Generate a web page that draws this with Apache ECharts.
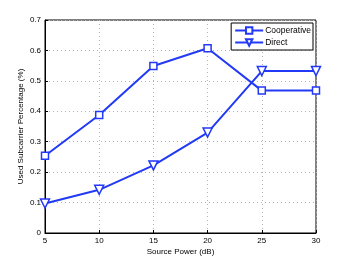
<!DOCTYPE html>
<html><head><meta charset="utf-8">
<script src="https://cdn.jsdelivr.net/npm/echarts@6/dist/echarts.min.js"></script>
<style>html,body{margin:0;padding:0;background:#fff}#c{width:349px;height:263px}</style>
</head><body><div id="c"></div>
<script>
const xValues = [5, 10, 15, 20, 25, 30];
const cooperative = [0.254, 0.388, 0.549, 0.607, 0.468, 0.468];
const direct = [0.097, 0.142, 0.222, 0.330, 0.532, 0.532];
const seriesNames = ['Cooperative', 'Direct'];
const xTitle = 'Source Power (dB)';
const yTitle = 'Used Subcarrier Percentage (%)';

const blue = '#2239f5';
const font = 'Liberation Sans';
const chart = echarts.init(document.getElementById('c'));
const pairs = a => xValues.map((x, i) => [x, a[i]]);
chart.setOption({
  animation: false,
  backgroundColor: '#fff',
  textStyle: { fontFamily: font },
  grid: { left: 45, right: 33, top: 20, bottom: 30, show: true, borderColor: '#000', borderWidth: 1 },
  legend: {
    data: seriesNames,
    right: 36, top: 23, orient: 'vertical',
    itemWidth: 28, itemHeight: 8, itemGap: 3,
    padding: [3, 2, 3, 3],
    borderColor: '#000', borderWidth: 1, backgroundColor: '#fff',
    textStyle: { fontFamily: font, fontSize: 8.5, color: '#000', padding: [0,0,0,-3] }
  },
  xAxis: {
    type: 'value', min: 5, max: 30, interval: 5,
    name: xTitle, nameLocation: 'middle', nameGap: 15, nameMoveOverlap: false,
    nameTextStyle: { fontFamily: font, fontSize: 8, color: '#000' },
    axisLine: { lineStyle: { color: '#000' } },
    axisTick: { inside: true, length: 3, lineStyle: { color: '#000' } },
    axisLabel: { fontFamily: font, fontSize: 8, color: '#000', margin: 4 },
    splitLine: { show: true, lineStyle: { type: [1, 3], color: '#b4b4b4' } }
  },
  yAxis: {
    type: 'value', min: 0, max: 0.7, interval: 0.1,
    name: yTitle, nameLocation: 'middle', nameGap: 20, nameMoveOverlap: false,
    nameTextStyle: { fontFamily: font, fontSize: 8, color: '#000' },
    axisLine: { show: true, lineStyle: { color: '#000' } },
    axisTick: { show: true, inside: true, length: 3, lineStyle: { color: '#000' } },
    axisLabel: { fontFamily: font, fontSize: 8, color: '#000', margin: 4,
      formatter: v => v === 0 ? '0' : v.toFixed(1) },
    splitLine: { show: true, lineStyle: { type: [1, 3], color: '#b4b4b4' } }
  },
  series: [
    { name: seriesNames[0], type: 'line', data: pairs(cooperative),
      symbol: 'rect', symbolSize: 7, showAllSymbol: true,
      lineStyle: { color: blue, width: 2 },
      itemStyle: { color: '#fff', borderColor: blue, borderWidth: 1.5 } },
    { name: seriesNames[1], type: 'line', data: pairs(direct),
      symbol: 'triangle', symbolRotate: 180, symbolSize: 9, showAllSymbol: true,
      lineStyle: { color: blue, width: 2 },
      itemStyle: { color: '#fff', borderColor: blue, borderWidth: 1.5 } }
  ]
});
</script></body></html>
